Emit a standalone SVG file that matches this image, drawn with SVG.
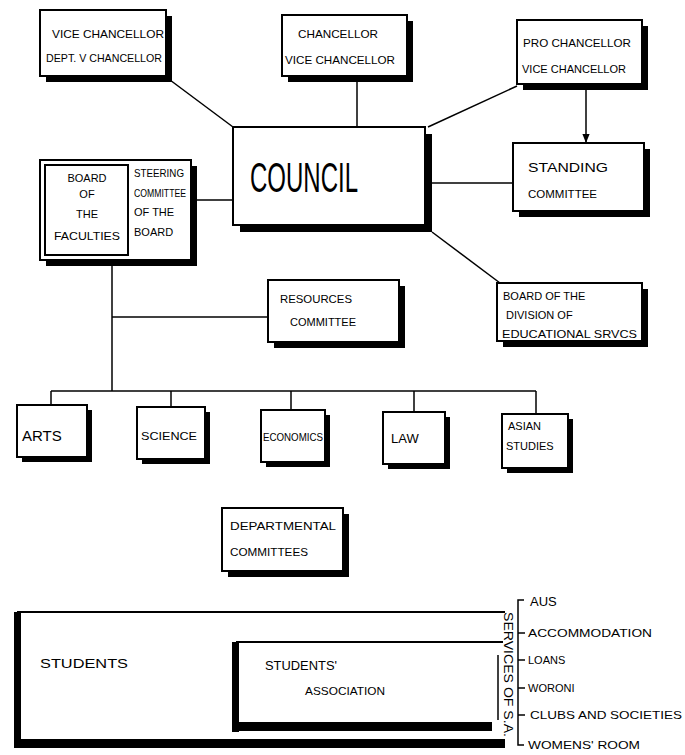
<svg xmlns="http://www.w3.org/2000/svg" width="685" height="755" viewBox="0 0 685 755">
<style>
.bx{fill:#fff;stroke:#000;stroke-width:2}
.sh{fill:#000}
.t{font-family:"Liberation Sans",Arial,sans-serif;font-size:11px;fill:#000}
.m{font-size:13px}
.big{font-family:"Liberation Sans",Arial,sans-serif;font-size:42px;fill:#000}
.cn line{stroke:#000;stroke-width:1.5;fill:none}
.ln{stroke:#000;stroke-width:1.5;fill:none}
</style>
<defs>
<marker id="ar" viewBox="0 0 10 10" refX="10" refY="5" markerWidth="6" markerHeight="6" orient="auto"><path d="M0,1 L10,5 L0,9 z" fill="#000"/></marker>
</defs>
<rect width="685" height="755" fill="#fff"/>
<g class="cn" id="connectors">
<line x1="170" y1="80" x2="233" y2="127"/>
<line x1="357" y1="82" x2="357" y2="127"/>
<line x1="517" y1="86" x2="428" y2="127"/>
<line x1="586" y1="90" x2="586" y2="143" marker-end="url(#ar)"/>
<line x1="432" y1="183" x2="513" y2="183"/>
<line x1="197" y1="200" x2="233" y2="200"/>
<line x1="432" y1="232" x2="500" y2="283"/>
<line x1="112" y1="262" x2="112" y2="391"/>
<line x1="112" y1="317" x2="268" y2="317"/>
<line x1="51" y1="391" x2="536" y2="391"/>
<line x1="51" y1="391" x2="51" y2="405"/>
<line x1="171" y1="391" x2="171" y2="407"/>
<line x1="291" y1="391" x2="291" y2="410"/>
<line x1="414" y1="391" x2="414" y2="412"/>
<line x1="536" y1="391" x2="536" y2="414"/>
</g>
<g id="vc">
<rect class="sh" x="46" y="16" width="126" height="66"/>
<rect class="bx" x="40" y="10" width="126" height="66"/>
<text class="t" x="52" y="38" textLength="112" lengthAdjust="spacingAndGlyphs">VICE CHANCELLOR</text>
<text class="t" x="46" y="62" textLength="116" lengthAdjust="spacingAndGlyphs">DEPT. V CHANCELLOR</text>
</g>
<g id="chancellor">
<rect class="sh" x="288" y="21" width="125" height="61"/>
<rect class="bx" x="282" y="15" width="125" height="61"/>
<text class="t" x="298" y="38" textLength="80" lengthAdjust="spacingAndGlyphs">CHANCELLOR</text>
<text class="t" x="285" y="64" textLength="110" lengthAdjust="spacingAndGlyphs">VICE CHANCELLOR</text>
</g>
<g id="pro">
<rect class="sh" x="523" y="26" width="125" height="64"/>
<rect class="bx" x="517" y="20" width="125" height="64"/>
<text class="t" x="523" y="47" textLength="108" lengthAdjust="spacingAndGlyphs">PRO CHANCELLOR</text>
<text class="t" x="522" y="73" textLength="104" lengthAdjust="spacingAndGlyphs">VICE CHANCELLOR</text>
</g>
<g id="council">
<rect class="sh" x="240" y="134" width="192" height="98"/>
<rect class="bx" x="233" y="127" width="192" height="98"/>
<text class="big" x="250" y="192" textLength="108" lengthAdjust="spacingAndGlyphs">COUNCIL</text>
</g>
<g id="standing">
<rect class="sh" x="519" y="149" width="131" height="68"/>
<rect class="bx" x="513" y="143" width="131" height="68"/>
<text class="t m" x="528" y="172" textLength="80" lengthAdjust="spacingAndGlyphs">STANDING</text>
<text class="t" x="528" y="198" textLength="69" lengthAdjust="spacingAndGlyphs">COMMITTEE</text>
</g>
<g id="board-faculties">
<rect class="sh" x="46" y="166" width="151" height="100"/>
<rect class="bx" x="40" y="160" width="151" height="100"/>
<rect class="bx" x="45" y="165" width="83" height="90"/>
<text class="t" x="87" y="182" text-anchor="middle">BOARD</text>
<text class="t" x="87" y="198" text-anchor="middle">OF</text>
<text class="t" x="87" y="218" text-anchor="middle">THE</text>
<text class="t" x="87" y="240" text-anchor="middle" textLength="66" lengthAdjust="spacingAndGlyphs">FACULTIES</text>
<text class="t" x="134" y="177" textLength="50" lengthAdjust="spacingAndGlyphs">STEERING</text>
<text class="t" x="134" y="197" textLength="52" lengthAdjust="spacingAndGlyphs">COMMITTEE</text>
<text class="t" x="134" y="216">OF THE</text>
<text class="t" x="134" y="236">BOARD</text>
</g>
<g id="resources">
<rect class="sh" x="274" y="286" width="131" height="62"/>
<rect class="bx" x="268" y="280" width="131" height="62"/>
<text class="t" x="280" y="303" textLength="72" lengthAdjust="spacingAndGlyphs">RESOURCES</text>
<text class="t" x="290" y="326" textLength="66" lengthAdjust="spacingAndGlyphs">COMMITTEE</text>
</g>
<g id="division">
<rect class="sh" x="503" y="289" width="145" height="58"/>
<rect class="bx" x="497" y="283" width="145" height="58"/>
<text class="t" x="503" y="300">BOARD OF THE</text>
<text class="t" x="506" y="319">DIVISION OF</text>
<text class="t" x="502" y="338" textLength="135" lengthAdjust="spacingAndGlyphs">EDUCATIONAL SRVCS</text>
</g>
<g id="arts">
<rect class="sh" x="22" y="410" width="70" height="52"/>
<rect class="bx" x="17" y="405" width="70" height="52"/>
<text class="t" x="22" y="441" style="font-size:15px">ARTS</text>
</g>
<g id="science">
<rect class="sh" x="142" y="412" width="68" height="52"/>
<rect class="bx" x="137" y="407" width="68" height="52"/>
<text class="t" x="141" y="440" textLength="56" lengthAdjust="spacingAndGlyphs">SCIENCE</text>
</g>
<g id="economics">
<rect class="sh" x="266" y="415" width="64" height="52"/>
<rect class="bx" x="261" y="410" width="64" height="52"/>
<text class="t" x="263" y="441" textLength="60" lengthAdjust="spacingAndGlyphs">ECONOMICS</text>
</g>
<g id="law">
<rect class="sh" x="388" y="417" width="62" height="52"/>
<rect class="bx" x="383" y="412" width="62" height="52"/>
<text class="t m" x="391" y="443">LAW</text>
</g>
<g id="asian">
<rect class="sh" x="507" y="419" width="66" height="54"/>
<rect class="bx" x="502" y="414" width="66" height="54"/>
<text class="t" x="508" y="430">ASIAN</text>
<text class="t" x="506" y="450">STUDIES</text>
</g>
<g id="departmental">
<rect class="sh" x="228" y="514" width="121" height="63"/>
<rect class="bx" x="222" y="508" width="121" height="63"/>
<text class="t" x="230" y="530" textLength="106" lengthAdjust="spacingAndGlyphs">DEPARTMENTAL</text>
<text class="t" x="230" y="556" textLength="78" lengthAdjust="spacingAndGlyphs">COMMITTEES</text>
</g>
<g id="students">
<line x1="17" y1="612" x2="505" y2="612" stroke="#000" stroke-width="2"/>
<rect class="sh" x="14" y="612" width="7" height="136"/>
<rect class="sh" x="14" y="739" width="491" height="9"/>
<text class="t m" x="40" y="668" textLength="88" lengthAdjust="spacingAndGlyphs">STUDENTS</text>
</g>
<g id="sa">
<line x1="236" y1="642" x2="503" y2="642" stroke="#000" stroke-width="2"/>
<rect class="sh" x="232" y="642" width="7" height="90"/>
<rect class="sh" x="232" y="722" width="260" height="9"/>
<line x1="498" y1="655" x2="498" y2="720" stroke="#000" stroke-width="1.5"/>
<text class="t m" x="265" y="670" textLength="72" lengthAdjust="spacingAndGlyphs">STUDENTS'</text>
<text class="t" x="305" y="695" textLength="80" lengthAdjust="spacingAndGlyphs">ASSOCIATION</text>
</g>
<g id="services">
<text class="t m" transform="translate(504,612) rotate(90)" textLength="125" lengthAdjust="spacingAndGlyphs">SERVICES OF S.A.</text>
<polyline class="ln" points="524,600 518,600 518,745 524,745"/>
<line class="ln" x1="518" y1="633" x2="525" y2="633"/>
<line class="ln" x1="518" y1="660" x2="525" y2="660"/>
<line class="ln" x1="518" y1="688" x2="525" y2="688"/>
<line class="ln" x1="518" y1="715" x2="525" y2="715"/>
<text class="t m" x="530" y="606">AUS</text>
<text class="t" x="528" y="637" textLength="124" lengthAdjust="spacingAndGlyphs">ACCOMMODATION</text>
<text class="t" x="528" y="664">LOANS</text>
<text class="t" x="528" y="692">WORONI</text>
<text class="t" x="530" y="719" textLength="152" lengthAdjust="spacingAndGlyphs">CLUBS AND SOCIETIES</text>
<text class="t" x="528" y="749" textLength="112" lengthAdjust="spacingAndGlyphs">WOMENS' ROOM</text>
</g>
</svg>
